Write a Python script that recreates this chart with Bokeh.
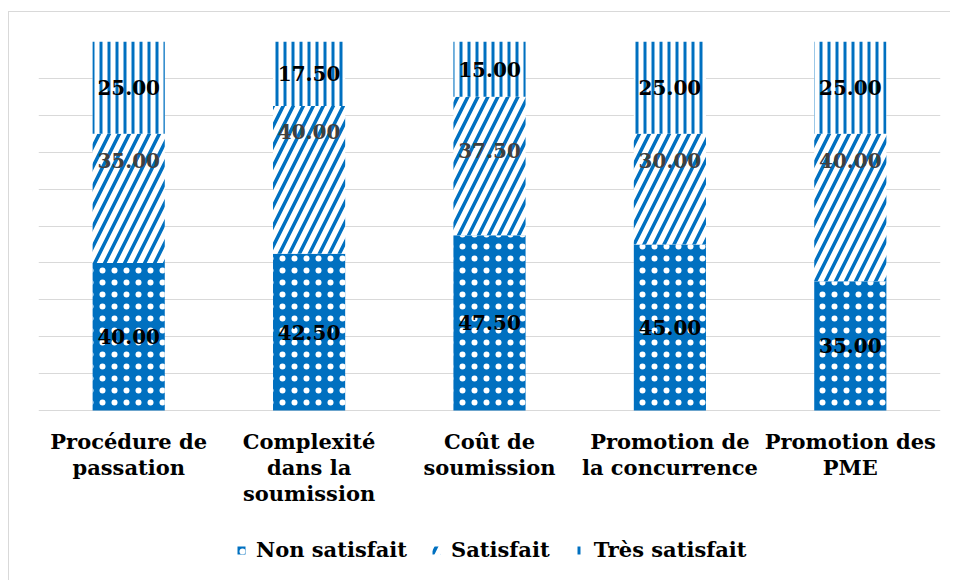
from bokeh.plotting import figure
from bokeh.models import (ColumnDataSource, Range1d, FixedTicker,
                          Legend, LegendItem)
from bokeh.core.properties import value
from bokeh.embed import file_html
from bokeh.resources import INLINE

# ---- data ----
categories = ["Procédure de passation", "Complexité dans la soumission",
              "Coût de soumission", "Promotion de la concurrence", "Promotion des PME"]
axis_label_lines = [["Procédure de", "passation"], ["Complexité", "dans la", "soumission"],
                    ["Coût de", "soumission"], ["Promotion de", "la concurrence"],
                    ["Promotion des", "PME"]]
series_names = ["Non satisfait", "Satisfait", "Très satisfait"]
non_satisfait = [40.00, 42.50, 47.50, 45.00, 35.00]
satisfait = [35.00, 40.00, 37.50, 30.00, 40.00]
tres_satisfait = [25.00, 17.50, 15.00, 25.00, 25.00]
y_ticks = [0, 10, 20, 30, 40, 50, 60, 70, 80, 90, 100]

# label placement (layout, in percentage units below the top of the middle segment)
mid_label_drop = [7.25, 7.0, 14.5, 7.25, 7.25]

BLUE = "#0070C0"
FONT = value("DejaVu Serif")
PX_PER_UNIT = 3.69          # 100 % = 369 px
W, H = 950, 580
TOP, BOTTOM = 41, 5
frame_px = H - TOP - BOTTOM
y_min = 100 - frame_px / PX_PER_UNIT   # frame extends below 0 to host labels/legend

n = len(categories)
xc = [i + 0.5 for i in range(n)]          # category slot centres
b0 = [0.0] * n
t0 = non_satisfait
b1 = t0
t1 = [a + b for a, b in zip(t0, satisfait)]
b2 = t1
t2 = [a + b for a, b in zip(t1, tres_satisfait)]

src = ColumnDataSource(dict(
    x=xc, cat=categories, b0=b0, t0=t0, b1=b1, t1=t1, b2=b2, t2=t2,
    l0=[v / 2 for v in non_satisfait],
    l1=[t - d for t, d in zip(t1, mid_label_drop)],
    l2=[(b + t) / 2 for b, t in zip(b2, t2)],
    s0=["%.2f" % v for v in non_satisfait],
    s1=["%.2f" % v for v in satisfait],
    s2=["%.2f" % v for v in tres_satisfait],
))

p = figure(width=W, height=H, x_range=Range1d(0, n),
           y_range=Range1d(y_min, 100), output_backend="svg", toolbar_location=None,
           min_border_left=38, min_border_right=10, min_border_top=TOP,
           min_border_bottom=BOTTOM)
p.background_fill_alpha = 0
p.border_fill_alpha = 0
p.outline_line_color = None
p.styles = {
    "background": "linear-gradient(#d9d9d9,#d9d9d9) 8px 11px / 100% 1px no-repeat, "
                  "linear-gradient(#d9d9d9,#d9d9d9) 8px 11px / 1px 100% no-repeat, white"
}

p.yaxis.visible = False
p.xaxis.visible = False
p.xgrid.visible = False
p.ygrid.ticker = FixedTicker(ticks=y_ticks)
p.ygrid.grid_line_color = "#d9d9d9"
p.ygrid.grid_line_width = 1

r0 = p.vbar(x="x", bottom="b0", top="t0", width=0.4, source=src,
            fill_color=BLUE, line_color=None,
            hatch_pattern="dot", hatch_color="white", hatch_scale=12, hatch_weight=2)
r1 = p.vbar(x="x", bottom="b1", top="t1", width=0.4, source=src,
            fill_color="white", line_color=None,
            hatch_pattern="right_diagonal_line", hatch_color=BLUE,
            hatch_scale=20, hatch_weight=3.5)
r2 = p.vbar(x="x", bottom="b2", top="t2", width=0.4, source=src,
            fill_color="white", line_color=None,
            hatch_pattern="vertical_line", hatch_color=BLUE,
            hatch_scale=8, hatch_weight=3)

for col, txt, colr in [("l0", "s0", "black"), ("l1", "s1", "#404040"), ("l2", "s2", "black")]:
    p.text(x="x", y=col, text=txt, source=src, text_align="center",
           text_baseline="middle", text_font=FONT, text_font_style="bold",
           text_font_size="20px", text_color=colr)

# category labels below the baseline
lx, ly, lt = [], [], []
for i, lines in enumerate(axis_label_lines):
    for k, line in enumerate(lines):
        lx.append(xc[i])
        ly.append(-(31 + 26 * k) / PX_PER_UNIT)
        lt.append(line)
p.text(x=lx, y=ly, text=lt, text_align="center", text_baseline="middle",
       text_font=FONT, text_font_style="bold", text_font_size="21px",
       text_color="black")

legend = Legend(items=[LegendItem(label=series_names[0], renderers=[r0]),
                       LegendItem(label=series_names[1], renderers=[r1]),
                       LegendItem(label=series_names[2], renderers=[r2])],
                orientation="horizontal", location=(198, 13),
                glyph_width=10, glyph_height=10, label_standoff=10, spacing=24,
                padding=0, margin=0, border_line_color=None,
                background_fill_alpha=0,
                label_text_font="DejaVu Serif", label_text_font_style="bold",
                label_text_font_size="21px", label_text_color="black")
p.add_layout(legend, "center")

open("out.html", "w").write(file_html(p, INLINE))
